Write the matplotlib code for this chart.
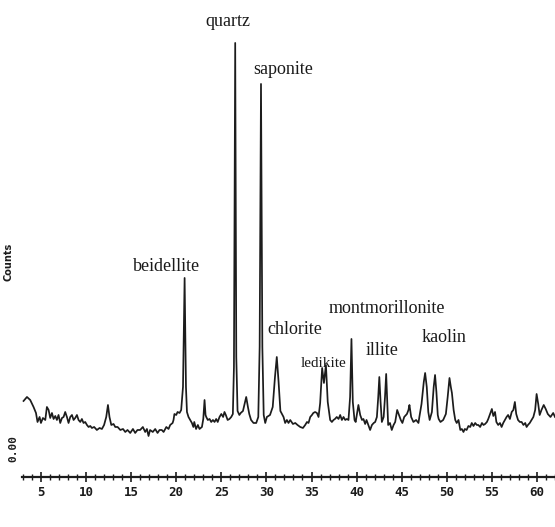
import numpy as np
import matplotlib
matplotlib.use('Agg')
import matplotlib.pyplot as plt

# 2-theta positions (deg) and counts
two_theta = [3.07, 3.45, 3.81, 4.18, 4.45, 4.62, 4.85, 5.00, 5.22, 5.48, 5.66, 5.85, 6.03, 6.22, 6.40,
             6.59, 6.77, 6.95, 7.14, 7.33, 7.51, 7.69, 7.88, 8.06, 8.25, 8.44, 8.62, 8.80, 8.99, 9.17,
             9.36, 9.54, 9.72, 9.91, 10.10, 10.28, 10.47, 10.65, 10.90, 11.20, 11.50, 11.76, 12.00,
             12.24, 12.43, 12.60, 12.80, 13.05, 13.24, 13.50, 13.80, 14.10, 14.35, 14.60, 14.90, 15.20,
             15.45, 15.70, 16.00, 16.30, 16.56, 16.75, 16.93, 17.10, 17.40, 17.67, 17.93, 18.15, 18.40,
             18.60, 18.90, 19.15, 19.33, 19.60, 19.70, 19.80, 20.00, 20.15, 20.37, 20.55, 20.75, 20.93,
             21.08, 21.19, 21.36, 21.55, 21.74, 21.90, 22.00, 22.20, 22.40, 22.58, 22.85, 23.00, 23.14,
             23.25, 23.33, 23.50, 23.70, 23.88, 24.07, 24.25, 24.43, 24.60, 24.80, 25.00, 25.20, 25.35,
             25.50, 25.70, 25.90, 26.10, 26.28, 26.40, 26.54, 26.66, 26.80, 27.00, 27.15, 27.40, 27.60,
             27.76, 27.95, 28.10, 28.30, 28.57, 28.87, 29.10, 29.25, 29.40, 29.55, 29.70, 29.87, 30.05,
             30.40, 30.70, 30.95, 31.15, 31.35, 31.55, 31.90, 32.08, 32.27, 32.45, 32.64, 32.94, 33.20,
             33.45, 33.75, 34.05, 34.30, 34.50, 34.67, 34.86, 35.05, 35.20, 35.40, 35.60, 35.78, 35.96,
             36.18, 36.38, 36.60, 36.80, 37.07, 37.26, 37.44, 37.60, 37.80, 38.00, 38.18, 38.37, 38.55,
             38.74, 38.92, 39.10, 39.28, 39.43, 39.58, 39.77, 39.90, 40.20, 40.40, 40.60, 40.76, 40.95,
             41.10, 41.30, 41.50, 41.70, 41.90, 42.06, 42.25, 42.40, 42.52, 42.66, 42.80, 43.00, 43.15,
             43.28, 43.42, 43.50, 43.70, 43.90, 44.10, 44.28, 44.50, 44.70, 44.90, 45.08, 45.28, 45.58,
             45.75, 45.86, 46.05, 46.30, 46.60, 46.86, 46.96, 47.20, 47.45, 47.60, 47.78, 47.95, 48.10,
             48.35, 48.55, 48.70, 48.85, 49.00, 49.10, 49.30, 49.60, 49.90, 50.10, 50.30, 50.45, 50.57,
             50.76, 50.94, 51.10, 51.30, 51.50, 51.67, 51.85, 52.00, 52.20, 52.40, 52.60, 52.77, 52.96,
             53.15, 53.33, 53.50, 53.70, 53.90, 54.07, 54.25, 54.45, 54.60, 54.80, 55.00, 55.16, 55.35,
             55.50, 55.70, 55.90, 56.08, 56.26, 56.45, 56.63, 56.80, 57.00, 57.20, 57.38, 57.55, 57.70,
             57.90, 58.10, 58.30, 58.50, 58.70, 58.85, 59.00, 59.20, 59.40, 59.60, 59.80, 59.96, 60.14,
             60.30, 60.50, 60.75, 60.97, 61.20, 61.50, 61.80, 62.00]
counts = [76, 80, 77, 70, 64, 55, 60, 54, 59, 57, 70, 67, 59, 64, 58,
          61, 57, 62, 54, 59, 60, 65, 60, 54, 60, 62, 57, 59, 62, 57,
          55, 58, 54, 55, 52, 50, 51, 49, 50, 47, 49, 48, 52,
          60, 72, 60, 52, 53, 50, 50, 47, 48, 45, 47, 44, 48,
          44, 47, 47, 50, 45, 48, 41, 47, 45, 48, 44, 47, 47,
          45, 50, 48, 52, 54, 57, 63, 62, 65, 64, 67, 90, 199,
          90, 65, 60, 57, 54, 50, 55, 48, 52, 48, 50, 58, 77,
          62, 60, 57, 58, 55, 57, 55, 58, 55, 60, 63, 60, 65,
          62, 57, 58, 60, 63, 110, 434, 120, 66, 62, 64, 66, 74,
          80, 70, 63, 57, 54, 54, 60, 130, 393, 130, 62, 54, 60,
          62, 70, 100, 120, 95, 66, 60, 54, 57, 54, 57, 53, 54,
          52, 50, 49, 52, 55, 54, 60, 62, 64, 65, 64, 60, 74,
          109, 94, 112, 75, 57, 55, 57, 58, 60, 58, 62, 57, 60,
          57, 58, 57, 80, 138, 75, 57, 55, 72, 62, 57, 58, 53,
          57, 52, 47, 52, 54, 55, 60, 80, 100, 75, 55, 60, 80,
          103, 70, 52, 54, 47, 52, 55, 67, 62, 57, 54, 60, 63,
          67, 72, 60, 55, 57, 54, 60, 73, 95, 104, 90, 65, 57,
          65, 90, 102, 85, 62, 58, 55, 57, 63, 80, 99, 90, 84,
          67, 57, 54, 57, 47, 48, 45, 48, 47, 51, 50, 54, 51,
          54, 52, 52, 50, 54, 52, 53, 55, 58, 63, 68, 61, 65,
          55, 52, 54, 50, 54, 57, 60, 62, 58, 65, 67, 75, 63,
          57, 55, 55, 52, 54, 50, 52, 54, 57, 60, 67, 83, 73,
          62, 67, 72, 68, 63, 60, 64, 60]

phases = ['quartz', 'saponite', 'beidellite', 'chlorite', 'ledikite', 'montmorillonite', 'illite', 'kaolin']
label_x = [25.77, 31.86, 18.89, 33.19, 36.30, 43.40, 42.85, 49.71]
label_y = [455, 407, 210, 147, 113, 168, 126, 139]
label_size = [13, 13, 13, 13, 11, 13, 13, 13]

fig = plt.figure(figsize=(5.55, 5.27), dpi=100)
ax = fig.add_axes([0.039, 0.0949, 0.961, 0.835])

ax.plot(two_theta, counts, color='#1c1c1c', linewidth=1.25)

for name, x, y, s in zip(phases, label_x, label_y, label_size):
    ax.text(x, y, name, ha='center', va='center', fontsize=s,
            family='Liberation Serif', color='#1a1a1a')

ax.set_xlim(2.86, 62.0)
ax.set_ylim(0, 440)
for side in ['left', 'top', 'right']:
    ax.spines[side].set_visible(False)
ax.spines['bottom'].set_linewidth(1.6)
ax.spines['bottom'].set_color('#1c1c1c')
ax.set_yticks([])
ax.set_xticks(np.arange(5, 61, 5))
ax.set_xticks(np.arange(3, 63, 1), minor=True)
ax.tick_params(axis='x', which='major', direction='inout', length=7, width=1.2, colors='#1c1c1c', pad=3)
ax.tick_params(axis='x', which='minor', direction='inout', length=4, width=1.0, colors='#1c1c1c')
for lab in ax.get_xticklabels():
    lab.set_family('DejaVu Sans Mono')
    lab.set_fontsize(9)
    lab.set_fontweight('bold')

fig.text(8 / 555, 1 - 262 / 527, 'Counts', rotation=90, ha='center', va='center',
         fontsize=7, fontweight='bold', family='DejaVu Sans', color='#1c1c1c')
fig.text(13 / 555, 1 - 448 / 527, '0.00', rotation=90, ha='center', va='center',
         fontsize=8, fontweight='bold', family='DejaVu Sans Mono', color='#1c1c1c')

fig.savefig('out.png', dpi=100, facecolor='white')
